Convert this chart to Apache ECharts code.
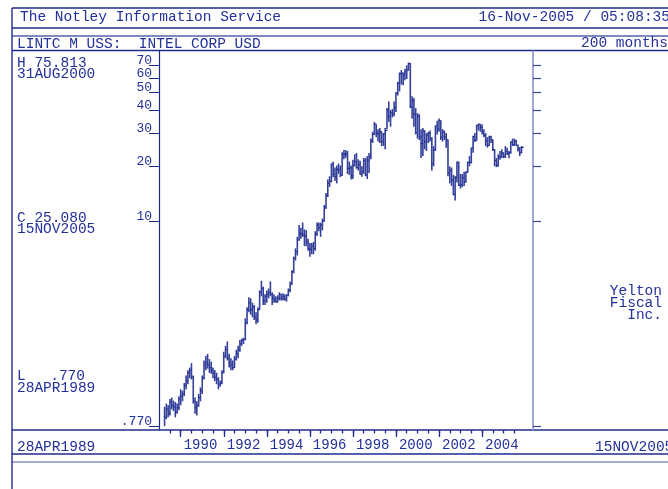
<!DOCTYPE html>
<html>
<head>
<meta charset="utf-8">
<script src="https://cdn.jsdelivr.net/npm/echarts@6/dist/echarts.min.js"></script>
<style>
  html, body { margin: 0; padding: 0; background: #fff; }
  #chart { width: 668px; height: 489px; }
</style>
</head>
<body>
<div id="chart"></div>
<script>
// monthly bars, Apr 1989 .. Nov 2005 (200 months), values in USD (split adjusted)
const highs = [
  0.98, 1.02, 1.00, 1.08, 1.10, 1.06, 1.04, 1.02, 1.12,                  // 1989
  1.22, 1.20, 1.32, 1.45, 1.55, 1.60, 1.69, 1.45, 1.10, 1.05, 1.15, 1.25, // 1990
  1.45, 1.75, 1.85, 1.90, 1.78, 1.72, 1.60, 1.55, 1.50, 1.42, 1.36, 1.55, // 1991
  1.95, 2.10, 2.22, 1.90, 1.80, 1.75, 1.85, 2.00, 2.10, 2.26, 2.30, 2.32, // 1992
  2.96, 3.40, 3.86, 3.80, 3.60, 3.50, 3.20, 3.40, 4.20, 4.73, 4.40, 4.00, // 1993
  4.20, 4.30, 4.70, 4.10, 4.00, 3.90, 3.95, 4.10, 4.00, 4.05, 4.00, 4.00, // 1994
  4.30, 4.70, 5.40, 6.40, 7.10, 8.20, 9.50, 9.20, 9.80, 9.00, 8.90, 8.00, // 1995
  7.60, 7.60, 7.70, 8.80, 9.80, 9.80, 9.80, 10.3, 12.2, 14.2, 16.8, 17.5, // 1996
  20.5, 21.0, 19.5, 20.0, 20.5, 20.0, 23.6, 24.3, 24.3, 24.0, 21.0, 20.0, // 1997
  21.5, 23.0, 23.4, 21.6, 21.2, 19.8, 22.0, 22.0, 22.5, 23.4, 28.0, 30.5, // 1998
  34.5, 33.5, 31.5, 32.0, 30.5, 30.0, 32.0, 41.0, 44.6, 40.0, 40.5, 44.5, // 1999
  50.0, 57.0, 64.0, 66.0, 64.0, 67.0, 70.0, 72.5, 72.0, 47.5, 46.5, 41.0, // 2000
  38.5, 38.0, 31.5, 32.0, 31.0, 30.0, 30.5, 31.0, 28.5, 25.5, 33.0, 35.0, // 2001
  36.0, 35.0, 31.5, 31.0, 30.0, 27.5, 19.8, 19.5, 17.8, 17.5, 21.0, 20.9, // 2002
  18.0, 18.0, 18.5, 18.6, 21.0, 22.5, 25.0, 29.0, 30.0, 33.3, 33.8, 33.5, // 2003
  33.5, 31.5, 30.0, 28.5, 29.0, 29.0, 27.5, 24.5, 22.0, 23.0, 24.0, 24.5, // 2004
  23.5, 25.5, 25.0, 24.0, 27.0, 28.0, 28.0, 27.6, 26.0, 25.2, 25.5        // 2005
];
const lows = [
  0.77, 0.84, 0.86, 0.88, 0.95, 0.93, 0.86, 0.90, 0.94,
  1.00, 1.05, 1.12, 1.22, 1.30, 1.40, 1.38, 1.02, 0.90, 0.88, 0.98, 1.05,
  1.15, 1.38, 1.55, 1.58, 1.50, 1.48, 1.40, 1.35, 1.30, 1.22, 1.26, 1.30,
  1.50, 1.80, 1.75, 1.60, 1.55, 1.55, 1.60, 1.75, 1.80, 1.95, 2.10, 2.15,
  2.25, 2.75, 3.20, 3.10, 3.00, 2.90, 2.75, 2.80, 3.30, 3.90, 3.50, 3.50,
  3.60, 3.80, 3.90, 3.50, 3.60, 3.60, 3.60, 3.70, 3.70, 3.70, 3.70, 3.65,
  3.90, 4.10, 4.50, 5.20, 6.10, 6.50, 7.80, 8.00, 8.20, 7.30, 7.30, 6.90,
  6.40, 6.60, 6.60, 6.90, 8.30, 8.80, 8.20, 8.90, 9.90, 11.6, 13.5, 15.3,
  16.2, 17.3, 16.5, 16.0, 18.0, 17.3, 17.6, 21.6, 22.0, 18.0, 17.8, 16.8,
  16.9, 19.8, 19.2, 18.8, 17.8, 17.4, 18.0, 17.5, 16.9, 18.2, 21.6, 26.5,
  29.3, 28.5, 27.0, 26.5, 25.5, 25.5, 24.5, 31.5, 34.5, 32.5, 36.5, 37.0,
  39.0, 48.0, 50.5, 55.0, 54.5, 58.0, 59.0, 65.5, 41.0, 36.0, 32.5, 29.5,
  28.0, 27.5, 22.0, 22.5, 24.5, 24.0, 26.5, 27.0, 18.8, 19.8, 24.0, 29.5,
  30.5, 27.5, 27.0, 27.5, 25.0, 17.5, 16.0, 15.5, 13.8, 12.9, 16.2, 15.5,
  15.0, 15.3, 15.5, 16.2, 18.3, 19.8, 20.5, 23.5, 26.8, 27.2, 31.0, 30.5,
  29.5, 28.5, 25.5, 25.0, 25.6, 26.5, 24.0, 19.8, 19.6, 19.7, 21.5, 22.0,
  21.9, 22.0, 22.8, 21.9, 23.2, 25.5, 25.5, 25.6, 23.8, 22.5, 23.3
];
const closes = [
  0.86, 0.95, 0.90, 1.04, 1.00, 0.98, 0.92, 0.97, 1.08,
  1.12, 1.15, 1.28, 1.35, 1.50, 1.55, 1.42, 1.05, 0.97, 1.00, 1.10, 1.20,
  1.40, 1.65, 1.70, 1.65, 1.60, 1.55, 1.50, 1.42, 1.38, 1.30, 1.32, 1.50,
  1.85, 2.00, 1.80, 1.70, 1.65, 1.60, 1.78, 1.90, 2.00, 2.15, 2.25, 2.28,
  2.80, 3.30, 3.60, 3.30, 3.40, 3.00, 2.90, 3.30, 4.10, 4.30, 3.70, 3.90,
  4.00, 4.10, 4.00, 3.80, 3.70, 3.65, 3.80, 4.00, 3.80, 3.90, 3.75, 3.95,
  4.20, 4.55, 5.30, 6.30, 6.80, 7.90, 8.60, 8.50, 8.40, 8.30, 7.70, 7.10,
  7.00, 7.30, 7.10, 8.50, 9.50, 9.20, 9.50, 10.0, 11.9, 13.7, 16.0, 16.4,
  20.4, 17.9, 17.4, 19.1, 18.9, 17.7, 23.0, 23.0, 23.1, 19.3, 19.4, 17.6,
  20.0, 21.0, 19.5, 20.2, 17.9, 18.5, 21.2, 17.8, 21.4, 22.3, 27.3, 29.6,
  33.5, 30.0, 29.7, 30.5, 27.0, 29.7, 31.0, 40.0, 37.0, 38.7, 38.3, 41.2,
  49.5, 56.0, 63.0, 63.4, 62.4, 64.5, 66.0, 71.5, 41.6, 45.0, 38.0, 30.2,
  37.0, 28.6, 26.3, 30.9, 27.0, 29.2, 29.8, 28.0, 20.4, 24.4, 32.7, 31.5,
  35.0, 28.5, 30.4, 28.6, 27.6, 18.3, 18.8, 16.7, 13.9, 17.3, 20.9, 15.6,
  15.7, 17.2, 16.3, 18.4, 20.8, 20.8, 24.9, 28.6, 27.5, 33.0, 33.5, 32.2,
  30.6, 29.2, 27.2, 25.7, 28.6, 27.6, 24.4, 21.3, 20.1, 22.3, 22.35, 23.4,
  22.45, 23.9, 23.2, 23.5, 26.9, 26.0, 27.1, 25.7, 24.6, 23.5, 25.08
];

// axis ticks (x in months counted from Apr 1989)
const yTicks = [0.77, 10, 20, 30, 40, 50, 60, 70];
const yearLabels = ['1990', '1992', '1994', '1996', '1998', '2000', '2002', '2004'];
const yearTickIdx = [9, 33, 57, 81, 105, 129, 153, 177];
const halfYearTickIdx = [3, 9, 15, 21, 27, 33, 39, 45, 51, 57, 63, 69, 75, 81, 87, 93, 99,
  105, 111, 117, 123, 129, 135, 141, 147, 153, 159, 165, 171, 177, 183, 189, 195];

const navy = '#1f2c8c', light = '#8890c6', ink = '#23319a';
const fontFamily = '"Liberation Mono", "DejaVu Sans Mono", monospace';
const xMin = -3.1, xMax = 205.4, yMin = 0.7335, yMax = 83.7;

const bars = highs.map((h, i) => [i, h, lows[i], closes[i]]);

function hline(y, x1, x2, color) {
  return { type: 'line', silent: true, shape: { x1: x1, y1: y, x2: x2, y2: y },
    style: { stroke: color || navy, lineWidth: 1.4 } };
}
function label(text, x, y, align) {
  return { type: 'text', x: x, y: y, silent: true,
    style: { text: text, fill: ink, font: '14.5px ' + fontFamily,
      textAlign: align || 'left', align: align || 'left',
      textVerticalAlign: 'middle', verticalAlign: 'middle' } };
}

const chart = echarts.init(document.getElementById('chart'));
chart.setOption({
  animation: false,
  backgroundColor: '#fff',
  grid: { left: 159, top: 51, width: 374, height: 379 },
  graphic: [
    hline(8, 12, 668), hline(28, 12, 668), hline(36, 12, 668, '#5660ac'), hline(50.5, 12, 668),
    hline(430, 12, 668), hline(454, 12, 668), hline(462, 12, 668, light),
    { type: 'line', silent: true, shape: { x1: 12, y1: 8, x2: 12, y2: 489 }, style: { stroke: navy, lineWidth: 1.4 } },
    label('The Notley Information Service', 20, 17),
    label('16-Nov-2005 / 05:08:35', 670, 17, 'right'),
    label('LINTC M USS:  INTEL CORP USD', 17, 44),
    label('200 months', 668, 43, 'right'),
    label('H 75.813', 17, 63), label('31AUG2000', 17, 74),
    label('C 25.080', 17, 218), label('15NOV2005', 17, 229),
    label('L', 17, 376), label('.770', 85, 376, 'right'), label('28APR1989', 17, 388),
    label('28APR1989', 17, 447), label('15NOV2005', 595, 447),
    label('Yelton', 662, 291, 'right'), label('Fiscal', 662, 303, 'right'), label('Inc.', 662, 315, 'right')
  ],
  xAxis: [
    {
      type: 'value', min: xMin, max: xMax,
      axisLine: { show: false, onZero: false }, splitLine: { show: false },
      axisTick: { show: true, customValues: halfYearTickIdx, length: 3.5, lineStyle: { color: navy, width: 1.3 } },
      axisLabel: { show: false }
    },
    {
      type: 'value', min: xMin, max: xMax, position: 'bottom',
      axisLine: { show: false, onZero: false }, splitLine: { show: false },
      axisTick: { show: true, customValues: yearTickIdx, length: 7, lineStyle: { color: navy, width: 1.3 } },
      axisLabel: {
        customValues: yearTickIdx,
        formatter: v => yearLabels[yearTickIdx.indexOf(v)],
        align: 'left', padding: [0, 0, 0, 3], margin: 8,
        color: ink, fontFamily: fontFamily, fontSize: 14
      }
    }
  ],
  yAxis: [
    {
      type: 'log', min: yMin, max: yMax,
      axisLine: { show: true, onZero: false, lineStyle: { color: navy, width: 1.2 } },
      axisTick: { show: false }, axisLabel: { show: false }, splitLine: { show: false }
    },
    {
      type: 'log', min: yMin, max: yMax, position: 'right',
      axisLine: { show: true, onZero: false, lineStyle: { color: light, width: 1.6 } },
      axisTick: { show: false }, axisLabel: { show: false }, splitLine: { show: false }
    }
  ],
  series: [
    {
      // price ticks on both value axes
      type: 'custom', silent: true, clip: false,
      data: yTicks.map(v => [xMin, v]),
      encode: { x: 0, y: 1 },
      renderItem: function (params, api) {
        const cs = params.coordSys;
        const v = api.value(1);
        const y = Math.round(api.coord([xMin, v])[1]) + 0.5;
        const text = v < 1 ? '.' + v.toFixed(3).slice(2) : String(v);
        return {
          type: 'group',
          children: [
            { type: 'line', shape: { x1: cs.x - 10, y1: y, x2: cs.x, y2: y }, style: { stroke: navy, lineWidth: 1 } },
            { type: 'line', shape: { x1: cs.x + cs.width, y1: y, x2: cs.x + cs.width + 8, y2: y }, style: { stroke: '#3a4699', lineWidth: 1.2 } },
            { type: 'text', x: cs.x - 7, y: y + 2,
              style: { text: text, fill: ink, font: '13px ' + fontFamily,
                textAlign: 'right', align: 'right', textVerticalAlign: 'bottom', verticalAlign: 'bottom' } }
          ]
        };
      }
    },
    {
      type: 'custom', silent: true,
      data: bars,
      encode: { x: 0, y: [1, 2, 3] },
      renderItem: function (params, api) {
        const i = api.value(0);
        const hi = api.coord([i, api.value(1)]);
        const lo = api.coord([i, api.value(2)]);
        const cl = api.coord([i, api.value(3)]);
        return {
          type: 'group',
          children: [
            { type: 'line', shape: { x1: hi[0], y1: hi[1], x2: lo[0], y2: lo[1] }, style: { stroke: '#34409a', lineWidth: 1.6 } },
            { type: 'line', shape: { x1: cl[0], y1: cl[1], x2: cl[0] + 2.2, y2: cl[1] }, style: { stroke: '#17258a', lineWidth: 1.2 } }
          ]
        };
      }
    }
  ]
});
</script>
</body>
</html>
